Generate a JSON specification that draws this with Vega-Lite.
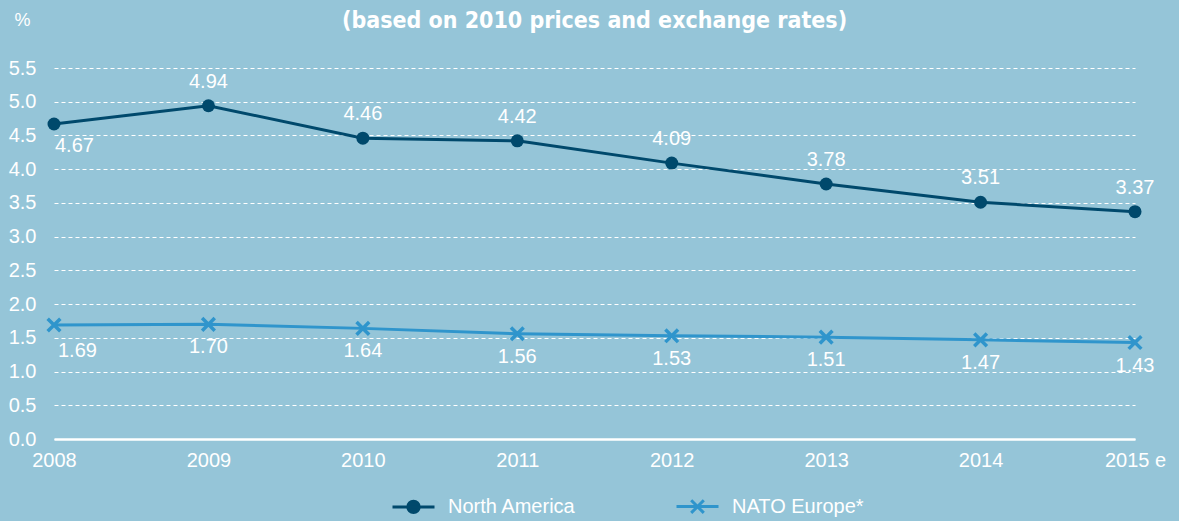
{
  "$schema": "https://vega.github.io/schema/vega-lite/v6.json",
  "width": 1081,
  "height": 371,
  "autosize": {"type": "none"},
  "padding": {"left": 54, "top": 68, "right": 44, "bottom": 82},
  "background": "#95c5d8",
  "config": {
    "view": {"stroke": null},
    "font": "Liberation Sans"
  },
  "title": {
    "text": "(based on 2010 prices and exchange rates)",
    "font": "DejaVu Sans Condensed",
    "fontSize": 23,
    "fontWeight": "bold",
    "color": "white",
    "anchor": "middle",
    "frame": "group",
    "baseline": "alphabetic",
    "offset": -40
  },
  "data": {
    "values": [
      {"year": "2008", "series": "North America", "value": 4.67},
      {"year": "2009", "series": "North America", "value": 4.94},
      {"year": "2010", "series": "North America", "value": 4.46},
      {"year": "2011", "series": "North America", "value": 4.42},
      {"year": "2012", "series": "North America", "value": 4.09},
      {"year": "2013", "series": "North America", "value": 3.78},
      {"year": "2014", "series": "North America", "value": 3.51},
      {"year": "2015 e", "series": "North America", "value": 3.37},
      {"year": "2008", "series": "NATO Europe*", "value": 1.69},
      {"year": "2009", "series": "NATO Europe*", "value": 1.70},
      {"year": "2010", "series": "NATO Europe*", "value": 1.64},
      {"year": "2011", "series": "NATO Europe*", "value": 1.56},
      {"year": "2012", "series": "NATO Europe*", "value": 1.53},
      {"year": "2013", "series": "NATO Europe*", "value": 1.51},
      {"year": "2014", "series": "NATO Europe*", "value": 1.47},
      {"year": "2015 e", "series": "NATO Europe*", "value": 1.43}
    ]
  },
  "encoding": {
    "x": {
      "field": "year",
      "type": "ordinal",
      "scale": {"type": "point", "padding": 0},
      "axis": {
        "title": null,
        "labelAngle": 0,
        "labelFontSize": 20,
        "labelColor": "white",
        "labelPadding": 11,
        "ticks": false,
        "domainColor": "white",
        "domainWidth": 2.5,
        "grid": false
      }
    },
    "y": {
      "field": "value",
      "type": "quantitative",
      "scale": {"domain": [0, 5.5], "nice": false},
      "axis": {
        "title": "%",
        "titleAngle": 0,
        "titleX": -32,
        "titleY": -48,
        "titleAlign": "center",
        "titleBaseline": "middle",
        "titleFontSize": 18,
        "titleFontWeight": "normal",
        "titleColor": "white",
        "values": [0, 0.5, 1, 1.5, 2, 2.5, 3, 3.5, 4, 4.5, 5, 5.5],
        "format": ".1f",
        "labelFontSize": 20,
        "labelColor": "white",
        "labelPadding": 18,
        "ticks": false,
        "domain": false,
        "grid": true,
        "gridColor": "white",
        "gridDash": [4, 3],
        "gridWidth": 1
      }
    }
  },
  "layer": [
    {
      "transform": [{"filter": "datum.series == 'North America'"}],
      "mark": {"type": "line", "strokeWidth": 3, "color": "#00496c"},
      "encoding": {}
    },
    {
      "transform": [{"filter": "datum.series == 'NATO Europe*'"}],
      "mark": {"type": "line", "strokeWidth": 3, "color": "#2f95cc"},
      "encoding": {}
    },
    {
      "transform": [{"filter": "datum.series == 'North America'"}],
      "mark": {"type": "point", "shape": "circle", "filled": true, "size": 169, "color": "#00496c", "opacity": 1}
    },
    {
      "transform": [{"filter": "datum.series == 'NATO Europe*'"}],
      "mark": {"type": "point", "shape": "M-1,-1L1,1M-1,1L1,-1", "filled": false, "size": 160, "strokeWidth": 3.5, "color": "#2f95cc", "opacity": 1}
    },
    {
      "transform": [{"filter": "datum.series == 'North America' && datum.year != '2008'"}],
      "mark": {"type": "text", "dy": -24, "fontSize": 20, "color": "white", "baseline": "middle", "align": "center"},
      "encoding": {"text": {"field": "value", "type": "quantitative", "format": ".2f"}}
    },
    {
      "transform": [{"filter": "datum.series == 'North America' && datum.year == '2008'"}],
      "mark": {"type": "text", "dy": 22, "dx": 1, "fontSize": 20, "color": "white", "baseline": "middle", "align": "left"},
      "encoding": {"text": {"field": "value", "type": "quantitative", "format": ".2f"}}
    },
    {
      "transform": [{"filter": "datum.series == 'NATO Europe*' && datum.year != '2008'"}],
      "mark": {"type": "text", "dy": 23, "fontSize": 20, "color": "white", "baseline": "middle", "align": "center"},
      "encoding": {"text": {"field": "value", "type": "quantitative", "format": ".2f"}}
    },
    {
      "transform": [{"filter": "datum.series == 'NATO Europe*' && datum.year == '2008'"}],
      "mark": {"type": "text", "dy": 26, "dx": 4, "fontSize": 20, "color": "white", "baseline": "middle", "align": "left"},
      "encoding": {"text": {"field": "value", "type": "quantitative", "format": ".2f"}}
    },
    {
      "mark": {"type": "point", "filled": true, "opacity": 0},
      "encoding": {
        "fill": {
          "field": "series",
          "type": "nominal",
          "scale": {"domain": ["North America", "NATO Europe*"], "range": ["#00496c", "#2f95cc"]},
          "legend": {
            "title": null,
            "orient": "none",
            "direction": "horizontal",
            "legendX": 337,
            "legendY": 416,
            "padding": 0,
            "symbolSize": 1764,
            "symbolStrokeWidth": 3,
            "symbolOpacity": 1,
            "labelFontSize": 20,
            "labelColor": "white",
            "labelOffset": 12,
            "columnPadding": 94,
            "labelFont": "Liberation Sans",
            "encode": {"symbols": {"update": {"opacity": {"value": 1}}}}
          }
        },
        "stroke": {
          "field": "series",
          "type": "nominal",
          "scale": {"domain": ["North America", "NATO Europe*"], "range": ["#00496c", "#2f95cc"]},
          "legend": {
            "title": null,
            "orient": "none",
            "direction": "horizontal",
            "legendX": 337,
            "legendY": 416,
            "padding": 0,
            "symbolSize": 1764,
            "symbolStrokeWidth": 3,
            "symbolOpacity": 1,
            "labelFontSize": 20,
            "labelColor": "white",
            "labelOffset": 12,
            "columnPadding": 94,
            "labelFont": "Liberation Sans",
            "encode": {"symbols": {"update": {"opacity": {"value": 1}}}}
          }
        },
        "shape": {
          "field": "series",
          "type": "nominal",
          "scale": {
            "domain": ["North America", "NATO Europe*"],
            "range": [
              "M-1,0H1M-0.27,0A0.27,0.27 0 1,0 0.27,0A0.27,0.27 0 1,0 -0.27,0Z",
              "M-1,0H1M-0.3,-0.3L0.3,0.3M-0.3,0.3L0.3,-0.3"
            ]
          },
          "legend": {
            "title": null,
            "orient": "none",
            "direction": "horizontal",
            "legendX": 337,
            "legendY": 416,
            "padding": 0,
            "symbolSize": 1764,
            "symbolStrokeWidth": 3,
            "symbolOpacity": 1,
            "labelFontSize": 20,
            "labelColor": "white",
            "labelOffset": 12,
            "columnPadding": 94,
            "labelFont": "Liberation Sans",
            "encode": {"symbols": {"update": {"opacity": {"value": 1}}}}
          }
        }
      }
    }
  ]
}
